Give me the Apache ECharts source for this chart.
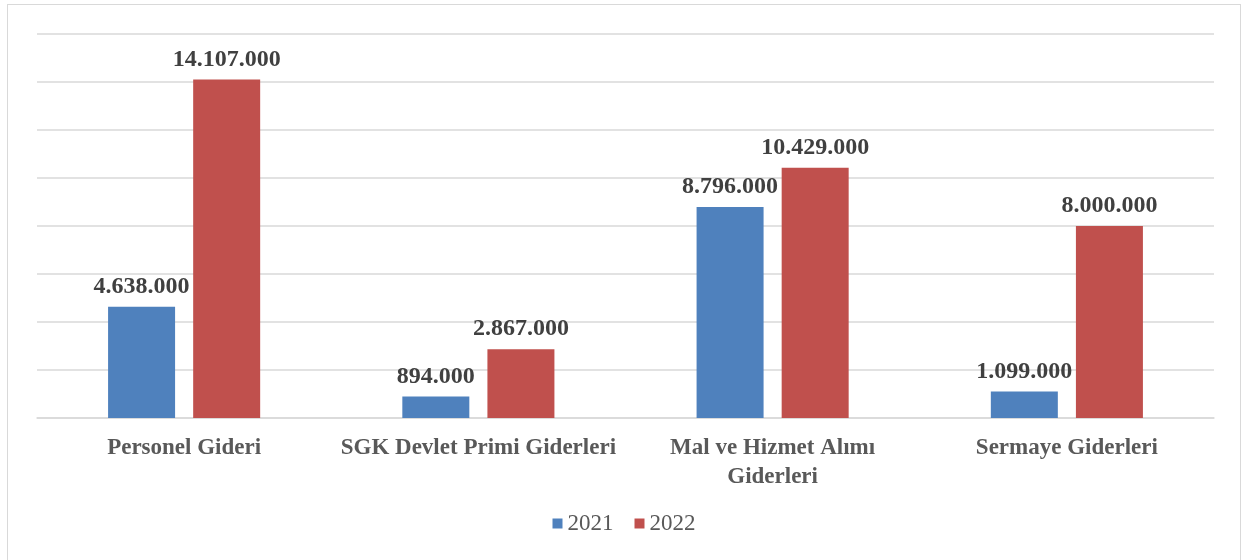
<!DOCTYPE html>
<html>
<head>
<meta charset="utf-8">
<script src="https://cdn.jsdelivr.net/npm/echarts@6/dist/echarts.min.js"></script>
<style>
html,body{margin:0;padding:0;background:#fff;}
#frame{position:absolute;left:7px;top:4px;width:1234px;height:600px;border:1px solid #d9d9d9;box-sizing:border-box;}
#chart{width:1248px;height:560px;}
</style>
</head>
<body>
<div id="frame"></div>
<div id="chart"></div>
<script>
var categories = ['Personel Gideri', 'SGK Devlet Primi Giderleri', 'Mal ve Hizmet Alımı\nGiderleri', 'Sermaye Giderleri'];
var years = ['2021', '2022'];
var values2021 = [4638000, 894000, 8796000, 1099000];
var values2022 = [14107000, 2867000, 10429000, 8000000];

// 1.234.567 formatı
function fmt(v){
	return String(v).replace(/\B(?=(\d{3})+(?!\d))/g, '.');
}

var chart = echarts.init(document.getElementById('chart'));
var labelStyle = {
	show: true,
	position: 'top',
	distance: 8,
	fontFamily: 'Liberation Serif',
	fontWeight: 'bold',
	fontSize: 24,
	color: '#404040',
	formatter: function(p){ return fmt(p.value); }
};
var option = {
	animation: false,
	legend: {
		data: years,
		bottom: 20,
		left: 'center',
		itemWidth: 10,
		itemHeight: 10,
		itemGap: 21,
		icon: 'rect',
		textStyle: {fontFamily: 'Liberation Serif', fontSize: 23, color: '#595959'}
	},
	grid: {left: 37, right: 34, top: 34, bottom: 142},
	xAxis: {
		type: 'category',
		data: categories,
		axisTick: {show: false},
		axisLine: {lineStyle: {color: '#d9d9d9', width: 1.5}},
		axisLabel: {
			interval: 0,
			margin: 16,
			fontFamily: 'Liberation Serif',
			fontWeight: 'bold',
			fontSize: 23,
			color: '#595959',
			lineHeight: 29
		}
	},
	yAxis: {
		type: 'value',
		min: 0,
		max: 16000000,
		interval: 2000000,
		axisLabel: {show: false},
		axisLine: {show: false},
		axisTick: {show: false},
		splitLine: {lineStyle: {color: '#d9d9d9', width: 1.5}}
	},
	series: [{
		name: '2021',
		type: 'bar',
		data: values2021,
		barWidth: 67,
		barGap: '27%',
		itemStyle: {color: '#4f81bd'},
		label: labelStyle
	}, {
		name: '2022',
		type: 'bar',
		data: values2022,
		barWidth: 67,
		itemStyle: {color: '#c0504d'},
		label: labelStyle
	}]
};
chart.setOption(option);
</script>
</body>
</html>
